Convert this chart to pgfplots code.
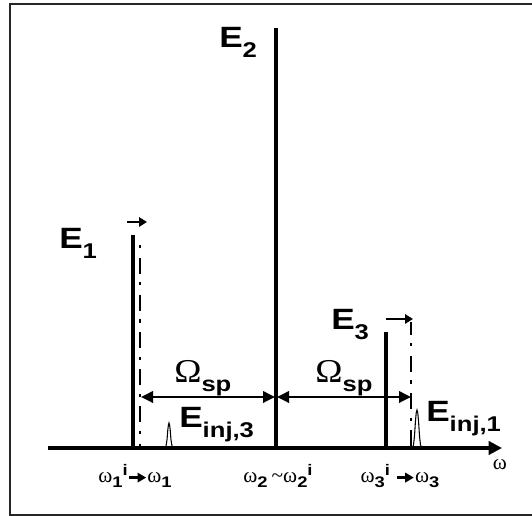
\documentclass[border=0pt]{standalone}
\usepackage{fontspec}
\setmainfont[FakeStretch=1.2]{Liberation Sans}
\newfontfamily\grk{Liberation Serif}
\newfontfamily\grkw[FakeStretch=1.1]{Liberation Serif}
\usepackage{pgfplots}
\pgfplotsset{compat=1.18}
\usetikzlibrary{arrows.meta}

% field labels: bold E with a large subscript
\newcommand{\Elab}[1]{{\fontsize{22}{22}\selectfont\bfseries E\raisebox{-7.5pt}{\fontsize{16}{16}\selectfont #1}}}
\newcommand{\Osp}{{\grkw\fontsize{25}{25}\selectfont Ω}\raisebox{-6.5pt}{\fontsize{16}{16}\selectfont\bfseries sp}}
% frequency labels
\newcommand{\w}{{\grk\fontsize{16}{16}\selectfont ω}}
\newcommand{\lo}[1]{\raisebox{-4pt}{\fontsize{11.5}{11.5}\selectfont\bfseries #1}}
\newcommand{\hi}[1]{\raisebox{5.5pt}{\fontsize{11.5}{11.5}\selectfont\bfseries #1}}
\newcommand{\rar}{\tikz[baseline]{\draw[line width=1.8pt,-{Triangle[length=6.5pt,width=7pt]}] (0,3.8pt) -- (13pt,3.8pt);}}

\begin{document}
\begin{tikzpicture}
\begin{axis}[
  scale only axis,
  width=340.5pt, height=387pt,
  xmin=48, xmax=502, ymin=-68, ymax=448,
  axis x line=middle, axis y line=none,
  x axis line style={line width=2.3pt, -{Triangle[length=10pt,width=10pt]}},
  xtick={135,278,400},
  xticklabels={
    {\w\lo{1}\hi{i}\rar\w\lo{1}},
    {\w\lo{2}\kern3pt{\grk\fontsize{16}{16}\selectfont\textasciitilde}\w\lo{2}\hi{i}},
    {\w\lo{3}\hi{i}\kern4pt\rar\w\lo{3}}},
  major tick length=0pt,
  xticklabel style={anchor=base, yshift=-26pt, inner sep=0pt},
  clip=false,
]
% spectral lines of the three fields
\addplot[ycomb, black, line width=2.3pt, mark=none] coordinates {(133,213) (276,420) (386,116)};

% shifted lines (dash-dot), drawn top to bottom
\addplot[black, line width=2.2pt, mark=none,
  dash pattern=on 2.4pt off 7pt on 12pt off 6.5pt]
  coordinates {(140,203) (140,0)};
\addplot[black, line width=2.2pt, mark=none,
  dash pattern=on 2.4pt off 7pt on 12pt off 6.5pt, dash phase=12pt]
  coordinates {(411,126) (411,0)};

% injected fields
\addplot[black, line width=0.8pt, mark=none] coordinates {
  (165,0) (166,2) (167,8) (167.8,18) (168.4,23) (169,25) (169.6,23) (170.2,18) (171,8) (172,2) (173,0)};
\addplot[black, line width=0.8pt, mark=none] coordinates {
  (412,0) (413.5,3) (414.5,12) (415.4,26) (416.2,35) (417,38) (417.8,35) (418.6,26) (419.5,12) (420.5,3) (422,0)};

% frequency shifts
\draw[line width=1.8pt, -{Triangle[length=6pt,width=7pt]}] (axis cs:127,226) -- (axis cs:147,226);
\draw[line width=1.8pt, -{Triangle[length=6pt,width=7pt]}] (axis cs:386,129) -- (axis cs:413,129);

% spacing arrows
\draw[line width=1.8pt, {Triangle[length=9pt,width=8.5pt]}-{Triangle[length=9pt,width=8.5pt]}] (axis cs:141,51) -- (axis cs:275,51);
\draw[line width=1.8pt, {Triangle[length=9pt,width=8.5pt]}-{Triangle[length=9pt,width=8.5pt]}] (axis cs:277,51) -- (axis cs:411,51);

% labels
\node[anchor=base west, inner sep=0] at (axis cs:59,199) {\Elab{1}};
\node[anchor=base west, inner sep=0] at (axis cs:219,400) {\Elab{2}};
\node[anchor=base west, inner sep=0] at (axis cs:331,118) {\Elab{3}};
\node[anchor=base west, inner sep=0] at (axis cs:179,20) {\Elab{inj,3}};
\node[anchor=base west, inner sep=0] at (axis cs:426,26) {\Elab{inj,1}};
\node[anchor=base west, inner sep=0] at (axis cs:174,65) {\Osp};
\node[anchor=base west, inner sep=0] at (axis cs:315,65) {\Osp};
\node[anchor=base, inner sep=0] at (axis cs:500,-22) {\w};

% frame, open on the right where the page ends
\draw[black!85, line width=1.8pt] (axis cs:540,444) -- (axis cs:10,444) -- (axis cs:10,-67) -- (axis cs:540,-67);

\coordinate (bbll) at (axis cs:0,-68);
\coordinate (bbur) at (axis cs:532,448);
\end{axis}
\pgfresetboundingbox
\path[use as bounding box] (bbll) rectangle (bbur);
\end{tikzpicture}
\end{document}
